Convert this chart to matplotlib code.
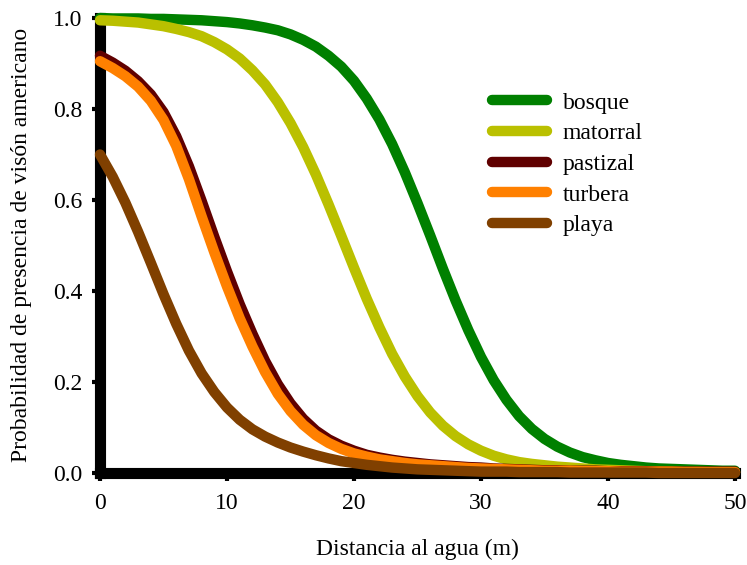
import matplotlib.pyplot as plt

plt.rcParams['font.family'] = ['Liberation Serif', 'DejaVu Serif']

# distance to water (m), one reading per metre
distancia = list(range(0, 51))

bosque = [1.000, 0.999, 0.999, 0.999, 0.998, 0.998, 0.997, 0.996, 0.995, 0.993,
          0.991, 0.988, 0.984, 0.979, 0.973, 0.964, 0.952, 0.937, 0.917, 0.893,
          0.862, 0.823, 0.777, 0.723, 0.661, 0.593, 0.522, 0.449, 0.379, 0.314,
          0.255, 0.204, 0.161, 0.125, 0.097, 0.075, 0.058, 0.045, 0.035, 0.028,
          0.022, 0.018, 0.015, 0.012, 0.010, 0.009, 0.008, 0.007, 0.006, 0.005,
          0.005]
matorral = [0.995, 0.994, 0.992, 0.990, 0.986, 0.982, 0.976, 0.969, 0.960, 0.947,
            0.931, 0.911, 0.885, 0.854, 0.815, 0.769, 0.716, 0.656, 0.590, 0.521,
            0.451, 0.383, 0.320, 0.262, 0.212, 0.169, 0.133, 0.104, 0.081, 0.063,
            0.049, 0.038, 0.030, 0.024, 0.020, 0.017, 0.014, 0.012, 0.010, 0.008,
            0.007, 0.006, 0.005, 0.004, 0.004, 0.003, 0.003, 0.003, 0.002, 0.002,
            0.002]
pastizal = [0.917, 0.902, 0.884, 0.861, 0.832, 0.793, 0.740, 0.674, 0.598, 0.519,
            0.443, 0.371, 0.306, 0.246, 0.195, 0.153, 0.119, 0.093, 0.074, 0.060,
            0.049, 0.040, 0.034, 0.029, 0.025, 0.022, 0.019, 0.017, 0.015, 0.013,
            0.012, 0.010, 0.009, 0.008, 0.007, 0.006, 0.006, 0.005, 0.005, 0.005,
            0.004, 0.004, 0.004, 0.004, 0.003, 0.003, 0.003, 0.003, 0.003, 0.003,
            0.003]
turbera = [0.905, 0.890, 0.872, 0.849, 0.818, 0.776, 0.719, 0.646, 0.564, 0.485,
           0.410, 0.340, 0.278, 0.222, 0.174, 0.136, 0.106, 0.083, 0.066, 0.053,
           0.043, 0.036, 0.030, 0.026, 0.022, 0.019, 0.017, 0.015, 0.013, 0.011,
           0.010, 0.009, 0.008, 0.007, 0.006, 0.005, 0.005, 0.005, 0.004, 0.004,
           0.004, 0.003, 0.003, 0.003, 0.003, 0.003, 0.002, 0.002, 0.002, 0.002,
           0.002]
playa = [0.700, 0.651, 0.594, 0.530, 0.462, 0.393, 0.328, 0.269, 0.219, 0.178,
         0.144, 0.117, 0.096, 0.080, 0.067, 0.056, 0.047, 0.039, 0.032, 0.026,
         0.022, 0.018, 0.015, 0.012, 0.010, 0.008, 0.007, 0.006, 0.005, 0.004,
         0.003, 0.003, 0.003, 0.002, 0.002, 0.002, 0.002, 0.001, 0.001, 0.001,
         0.001, 0.001, 0.001, 0.001, 0.000, 0.000, 0.000, 0.000, 0.000, 0.000,
         0.000]

series = [("bosque", bosque, "#008000"),
          ("matorral", matorral, "#BAC000"),
          ("pastizal", pastizal, "#600000"),
          ("turbera", turbera, "#FF8000"),
          ("playa", playa, "#804000")]

fig = plt.figure(figsize=(7.47, 5.65), dpi=100)
ax = fig.add_axes([100 / 747, 1 - 473 / 565, 635 / 747, 455 / 565])

for name, vals, col in series:
    ax.plot(distancia, vals, color=col, lw=7.5, label=name,
            solid_capstyle='round', solid_joinstyle='round',
            clip_on=False, zorder=3)

ax.set_xlim(0, 50)
ax.set_ylim(0, 1)
ax.set_xticks(range(0, 51, 10))
ax.set_yticks([0, 0.2, 0.4, 0.6, 0.8, 1.0])
ax.set_yticklabels(["0.0", "0.2", "0.4", "0.6", "0.8", "1.0"])

for side in ["top", "right"]:
    ax.spines[side].set_visible(False)
for side in ["left", "bottom"]:
    ax.spines[side].set_linewidth(8)
    ax.spines[side].set_capstyle('projecting')
    ax.spines[side].set_zorder(2)

ax.tick_params(axis='both', length=5.5, width=3, labelsize=17, color='black')
ax.tick_params(axis='y', pad=7)
ax.tick_params(axis='x', pad=9)

fig.text(417 / 747, 1 - 549 / 565, "Distancia al agua (m)", fontsize=17,
         ha='center', va='center')
fig.text(22 / 747, 1 - 245 / 565, "Probabilidad de presencia de visón americano",
         fontsize=17, ha='center', va='center', rotation=90)

ax.legend(loc='upper left', bbox_to_anchor=(492 / 747, 1 - 92 / 565),
          bbox_transform=fig.transFigure, frameon=False, fontsize=17,
          handlelength=2.35, handletextpad=0.64, labelspacing=0.39,
          borderpad=0, borderaxespad=0)

fig.savefig("out.png", dpi=100)
